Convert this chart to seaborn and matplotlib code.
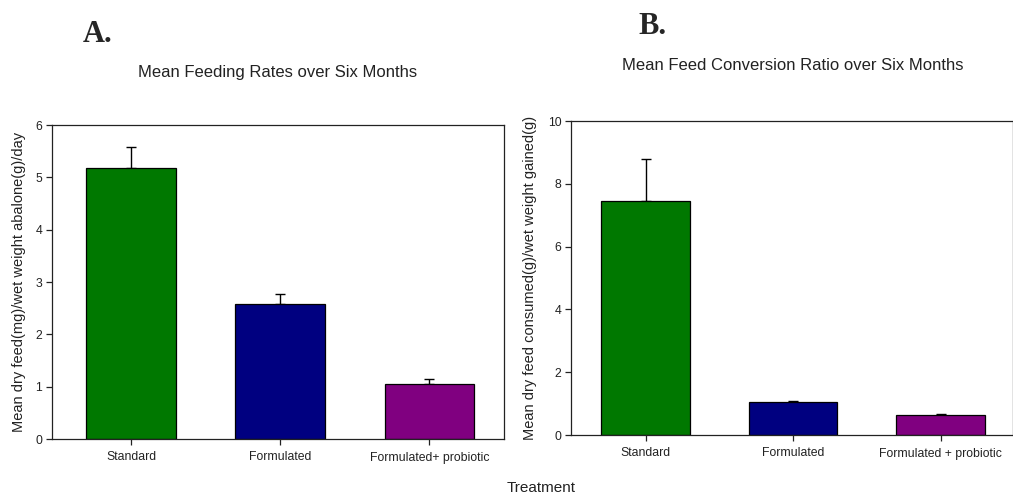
import matplotlib
matplotlib.use("Agg")
import matplotlib.pyplot as plt
import seaborn as sns
import numpy as np
import pandas as pd

# ---- data ----
categories_a = ["Standard", "Formulated", "Formulated+ probiotic"]
feeding_rate = [5.17, 2.58, 1.05]
feeding_rate_err = [0.41, 0.20, 0.10]

categories_b = ["Standard", "Formulated", "Formulated + probiotic"]
fcr = [7.45, 1.05, 0.65]
fcr_err = [1.35, 0.02, 0.02]

bar_colors = ["#007800", "#000080", "#800080"]

sns.set_theme(style="ticks")
plt.rcParams["font.family"] = ["Liberation Sans", "DejaVu Sans"]

fig = plt.figure(figsize=(10.13, 4.95), dpi=100)
W, H = 1013, 495

def add_ax(x0, y0, x1, y1):
    return fig.add_axes([x0 / W, 1 - y1 / H, (x1 - x0) / W, (y1 - y0) / H])

ax1 = add_ax(52, 125, 504, 439)
ax2 = add_ax(571, 121, 1013, 435)

def draw(ax, cats, vals, errs, ymax, ystep, ylabel):
    df = pd.DataFrame({"cat": cats, "val": vals})
    sns.barplot(data=df, x="cat", y="val", hue="cat", palette=bar_colors,
                width=0.6, edgecolor="black", linewidth=0.9, legend=False,
                saturation=1, ax=ax, zorder=2)
    xs = np.arange(len(cats))
    ax.errorbar(xs, vals, yerr=[np.zeros(len(errs)), errs], fmt="none",
                ecolor="black", elinewidth=1.0, capsize=3.5, capthick=1.0, zorder=1)
    ax.set_ylim(0, ymax)
    ax.set_yticks(np.arange(0, ymax + 0.001, ystep))
    ax.set_xlabel("")
    ax.set_ylabel(ylabel, fontsize=10.5, color="#222222")
    ax.tick_params(axis="both", labelsize=8.8, length=4, width=0.9,
                   colors="#222222", direction="out")
    ax.tick_params(axis="x", pad=5)
    ax.tick_params(axis="y", pad=3)
    for s in ax.spines.values():
        s.set_linewidth(0.9)
        s.set_color("#222222")

draw(ax1, categories_a, feeding_rate, feeding_rate_err, 6, 1,
     "Mean dry feed(mg)/wet weight abalone(g)/day")
ax1.set_xlim(-0.53, 2.5)
ax1.yaxis.set_label_coords(-0.058, 0.5)

draw(ax2, categories_b, fcr, fcr_err, 10, 2,
     "Mean dry feed consumed(g)/wet weight gained(g)")
ax2.set_xlim(-0.505, 2.49)
ax2.yaxis.set_label_coords(-0.077, 0.5)

fig.text(278 / W, 1 - 72 / H, "Mean Feeding Rates over Six Months",
         ha="center", va="center", fontsize=12, color="#222222")
fig.text(793 / W, 1 - 66 / H, "Mean Feed Conversion Ratio over Six Months",
         ha="center", va="center", fontsize=12, color="#222222")
fig.text(98 / W, 1 - 35 / H, "A.", ha="center", va="center", fontsize=22,
         fontweight="bold", family=["Liberation Serif", "DejaVu Serif"])
fig.text(652 / W, 1 - 26 / H, "B.", ha="center", va="center", fontsize=22,
         fontweight="bold", family=["Liberation Serif", "DejaVu Serif"])
fig.text(541 / W, 1 - 488 / H, "Treatment", ha="center", va="center",
         fontsize=11, color="#222222")

fig.savefig("out.png", dpi=100)
